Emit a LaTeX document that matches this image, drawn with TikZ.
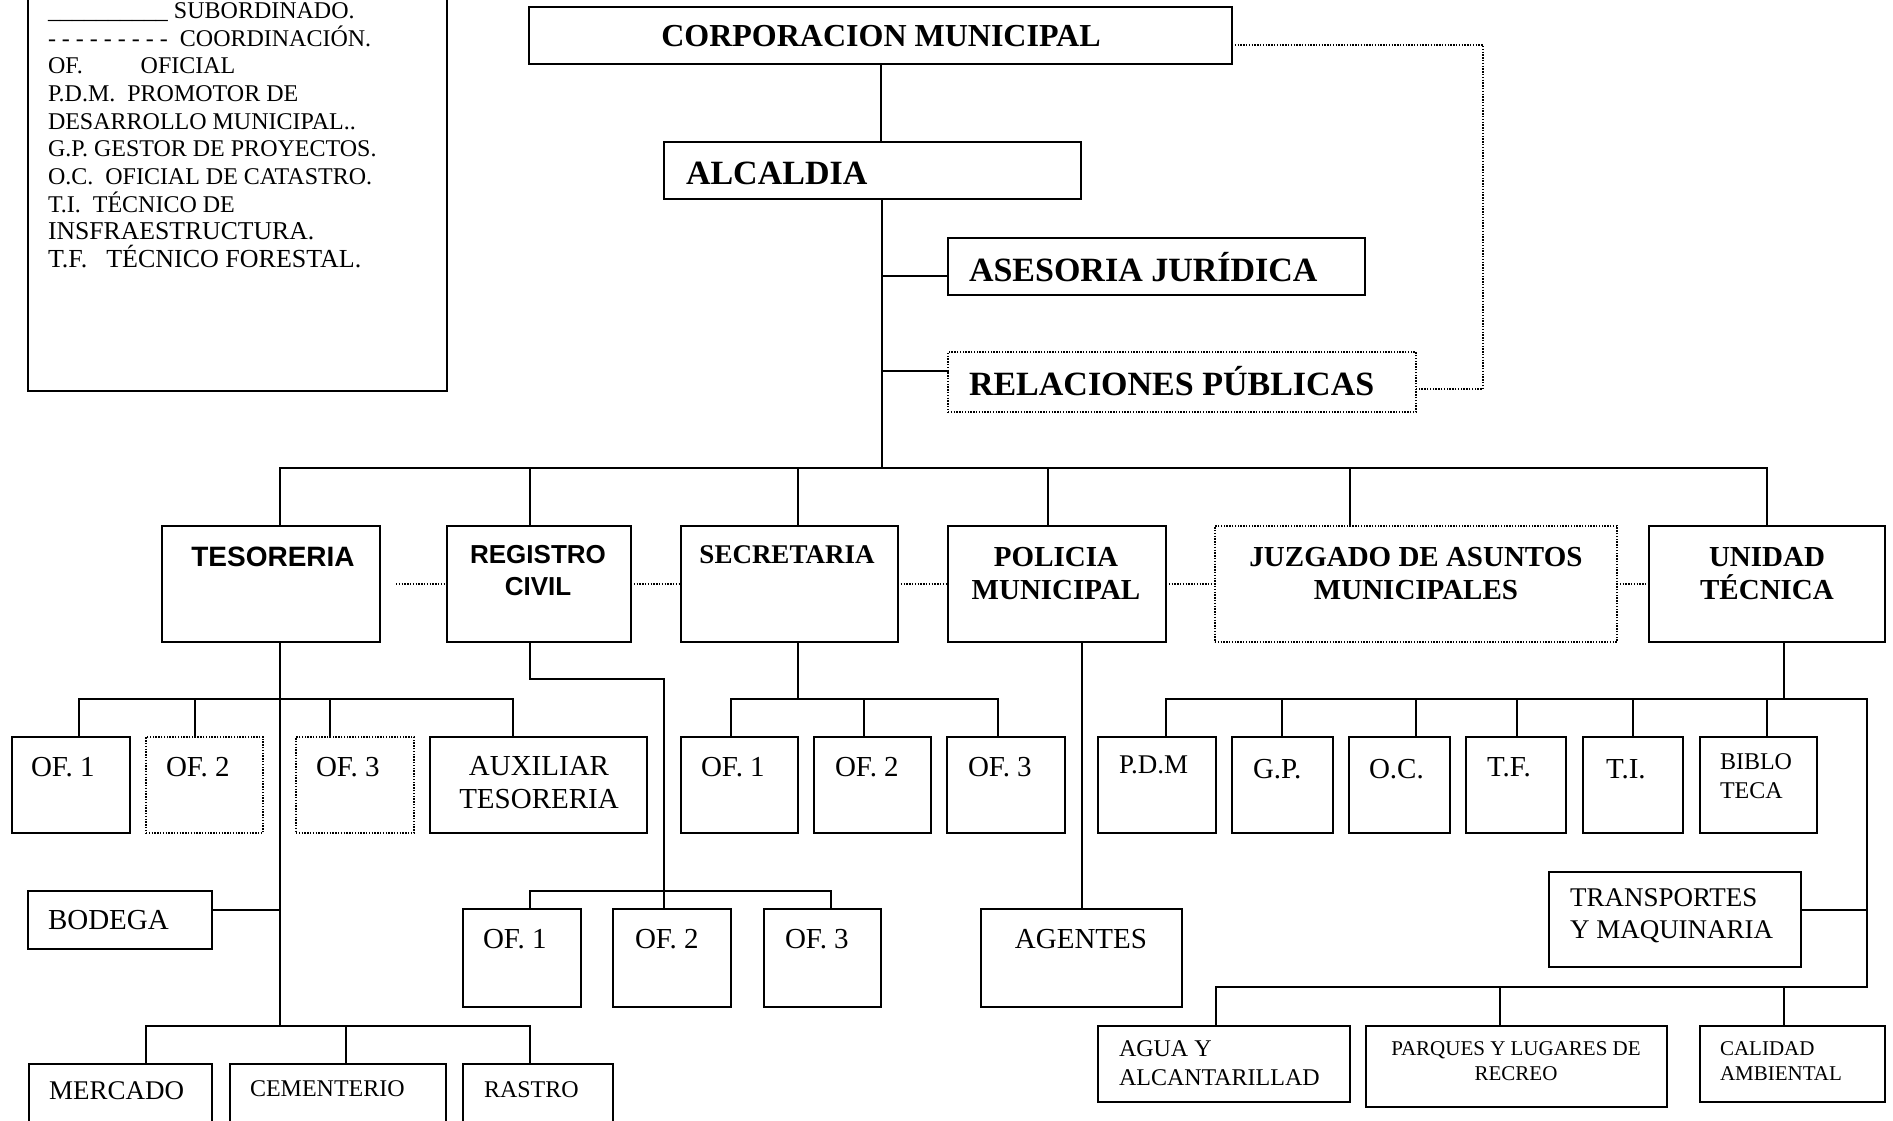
\documentclass[tikz,border=0pt]{standalone}
\usepackage{fontspec}
\setmainfont{Liberation Serif}
\newfontfamily\sansfam{Liberation Sans}
\newcommand\fsz[2]{\fontsize{#1pt}{#2pt}\selectfont}
\begin{document}
\begin{tikzpicture}[x=1pt,y=-1pt,
  box/.style={draw, line width=1.6pt, inner sep=0pt, outer sep=0pt, anchor=north west},
  dbox/.style={box, line width=1.4pt, dash pattern=on 1.4pt off 1.4pt},
  conn/.style={line width=1.5pt, line cap=rect},
  dconn/.style={line width=1.4pt, dash pattern=on 1.4pt off 1.4pt},
  txt/.style={inner sep=0pt, outer sep=0pt},
  bt/.style={txt, font=\bfseries\fsz{#1}{33}},
  rt/.style={txt, font=\fsz{#1}{32}},
]
\useasboundingbox (0,0) rectangle (1893,1121);

% ---------- boxes ----------
\node[box, minimum width=419pt, minimum height=411pt] (leg) at (28,-20) {};
\node[box, minimum width=703pt, minimum height=57pt] (corp) at (529,7) {};
\node[box, minimum width=417pt, minimum height=57pt] (alc) at (664,142) {};
\node[box, minimum width=417pt, minimum height=57pt] (ases) at (948,238) {};
\node[dbox, minimum width=468pt, minimum height=60pt] (rel) at (948,352) {};

\node[box, minimum width=218pt, minimum height=116pt] (tes) at (162,526) {};
\node[box, minimum width=184pt, minimum height=116pt] (reg) at (447,526) {};
\node[box, minimum width=217pt, minimum height=116pt] (sec) at (681,526) {};
\node[box, minimum width=218pt, minimum height=116pt] (pol) at (948,526) {};
\node[dbox, minimum width=402pt, minimum height=116pt] (juz) at (1215,526) {};
\node[box, minimum width=236pt, minimum height=116pt] (uni) at (1649,526) {};

\node[box, minimum width=118pt, minimum height=96pt] (tof1) at (12,737) {};
\node[dbox, minimum width=117pt, minimum height=96pt] (tof2) at (146,737) {};
\node[dbox, minimum width=118pt, minimum height=96pt] (tof3) at (296,737) {};
\node[box, minimum width=217pt, minimum height=96pt] (aux) at (430,737) {};
\node[box, minimum width=117pt, minimum height=96pt] (sof1) at (681,737) {};
\node[box, minimum width=117pt, minimum height=96pt] (sof2) at (814,737) {};
\node[box, minimum width=118pt, minimum height=96pt] (sof3) at (947,737) {};
\node[box, minimum width=118pt, minimum height=96pt] (pdm) at (1098,737) {};
\node[box, minimum width=101pt, minimum height=96pt] (gp) at (1232,737) {};
\node[box, minimum width=101pt, minimum height=96pt] (oc) at (1349,737) {};
\node[box, minimum width=100pt, minimum height=96pt] (tf) at (1466,737) {};
\node[box, minimum width=100pt, minimum height=96pt] (ti) at (1583,737) {};
\node[box, minimum width=117pt, minimum height=96pt] (bib) at (1700,737) {};

\node[box, minimum width=184pt, minimum height=58pt] (bod) at (28,891) {};
\node[box, minimum width=118pt, minimum height=98pt] (rof1) at (463,909) {};
\node[box, minimum width=118pt, minimum height=98pt] (rof2) at (613,909) {};
\node[box, minimum width=117pt, minimum height=98pt] (rof3) at (764,909) {};
\node[box, minimum width=201pt, minimum height=98pt] (age) at (981,909) {};
\node[box, minimum width=252pt, minimum height=95pt] (trans) at (1549,872) {};
\node[box, minimum width=252pt, minimum height=76pt] (agua) at (1098,1026) {};
\node[box, minimum width=301pt, minimum height=81pt] (parq) at (1366,1026) {};
\node[box, minimum width=185pt, minimum height=76pt] (cal) at (1700,1026) {};
\node[box, minimum width=183pt, minimum height=62pt] (merc) at (29,1064) {};
\node[box, minimum width=216pt, minimum height=62pt] (cem) at (230,1064) {};
\node[box, minimum width=150pt, minimum height=62pt] (ras) at (463,1064) {};

% ---------- legend (anchored at the baseline of its last line) ----------
\node[txt, anchor=base west, align=left, font=\fsz{24}{27.7}] (legtext) at (48,267.6)
 {\_\_\_\_\_\_\_\_\_\_ SUBORDINADO.\\
  - - - - - - - - -~~COORDINACIÓN.\\
  OF.\hspace{58pt}OFICIAL\\
  P.D.M.~~PROMOTOR DE\\
  DESARROLLO MUNICIPAL..\\
  G.P. GESTOR DE PROYECTOS.\\
  O.C.~~OFICIAL DE CATASTRO.\\
  T.I.~~TÉCNICO DE\\
  \fsz{25.7}{27.7}INSFRAESTRUCTURA.\\
  \fsz{26}{27.7}T.F.\hspace{19pt}TÉCNICO FORESTAL.};

% ---------- texts ----------
\node[bt=32, anchor=base] (tcorp) at (881,47) {CORPORACION MUNICIPAL};
\node[bt=34, anchor=base west] (talc) at (686,185) {ALCALDIA};
\node[bt=34, anchor=base west] (tases) at (969,281) {ASESORIA JURÍDICA};
\node[bt=34, anchor=base west] (trel) at (969,395) {RELACIONES PÚBLICAS};

\node[txt, anchor=base, font=\sansfam\bfseries\fsz{28}{32}] (ttes) at (273,566) {TESORERIA};
\node[txt, anchor=base, align=center, font=\sansfam\bfseries\fsz{26}{32}] (treg) at (538,595) {REGISTRO\\CIVIL};
\node[bt=27, anchor=base] (tsec) at (787,563) {SECRETARIA};
\node[bt=29, anchor=base, align=center] (tpol) at (1056,599) {POLICIA\\MUNICIPAL};
\node[bt=29, anchor=base, align=center] (tjuz) at (1416,599) {JUZGADO DE ASUNTOS\\MUNICIPALES};
\node[bt=29, anchor=base, align=center] (tuni) at (1767,599) {UNIDAD\\TÉCNICA};

\node[rt=29, anchor=base west] (ttof1) at (31,776) {OF. 1};
\node[rt=29, anchor=base west] (ttof2) at (166,776) {OF. 2};
\node[rt=29, anchor=base west] (ttof3) at (316,776) {OF. 3};
\node[txt, anchor=base, align=center, font=\fsz{29}{33}] (taux) at (539,808) {AUXILIAR\\TESORERIA};
\node[rt=29, anchor=base west] (tsof1) at (701,776) {OF. 1};
\node[rt=29, anchor=base west] (tsof2) at (835,776) {OF. 2};
\node[rt=29, anchor=base west] (tsof3) at (968,776) {OF. 3};
\node[rt=27, anchor=base west] (tpdm) at (1119,773) {P.D.M};
\node[rt=29, anchor=base west] (tgp) at (1253,778) {G.P.};
\node[rt=29, anchor=base west] (toc) at (1369,778) {O.C.};
\node[rt=29, anchor=base west] (ttf) at (1487,776) {T.F.};
\node[rt=29, anchor=base west] (tti) at (1606,778) {T.I.};
\node[txt, anchor=base west, align=left, font=\fsz{24}{28.3}] (tbib) at (1720,798) {BIBLO\\TECA};

\node[rt=29, anchor=base west] (tbod) at (48,929) {BODEGA};
\node[rt=29, anchor=base west] (trof1) at (483,948) {OF. 1};
\node[rt=29, anchor=base west] (trof2) at (635,948) {OF. 2};
\node[rt=29, anchor=base west] (trof3) at (785,948) {OF. 3};
\node[rt=29, anchor=base] (tage) at (1081,948) {AGENTES};
\node[txt, anchor=base west, align=left, font=\fsz{27}{31.5}] (ttrans) at (1570,938) {TRANSPORTES\\Y MAQUINARIA};
\node[txt, anchor=base west, align=left, font=\fsz{24}{28.3}] (tagua) at (1119,1085) {AGUA Y\\ALCANTARILLAD};
\node[txt, anchor=base, align=center, font=\fsz{21}{25}] (tparq) at (1516,1080) {PARQUES Y LUGARES DE\\RECREO};
\node[txt, anchor=base west, align=left, font=\fsz{21}{25}] (tcal) at (1720,1080) {CALIDAD\\AMBIENTAL};
\node[rt=27, anchor=base west] (tmerc) at (49,1099) {MERCADO};
\node[rt=24, anchor=base west] (tcem) at (250,1096) {CEMENTERIO};
\node[rt=24, anchor=base west] (tras) at (484,1097) {RASTRO};

% ---------- connectors: top ----------
\coordinate (spine) at (882,468);
\draw[conn] (corp.south -| 881,0) -- (alc.north -| 881,0);
\draw[conn] (alc.south -| spine) -- (spine);
\draw[conn] (spine |- 0,276) -- (ases.west |- 0,276);
\draw[conn] (spine |- 0,371) -- (rel.west |- 0,371);
\draw[dconn] (corp.east |- 0,45) -- (1483,45) -- (1483,389) -- (rel.east |- 0,389);

% main bus
\draw[conn] (280,468) -- (1767,468);
\draw[conn] (280,468) -- (tes.north -| 280,0);
\draw[conn] (530,468) -- (reg.north -| 530,0);
\draw[conn] (798,468) -- (sec.north -| 798,0);
\draw[conn] (1048,468) -- (pol.north -| 1048,0);
\draw[conn] (1350,468) -- (juz.north -| 1350,0);
\draw[conn] (1767,468) -- (uni.north -| 1767,0);

% coordination (dotted)
\coordinate (tesdot) at (396,584);
\draw[dconn] (tesdot) -- (reg.west);
\draw[dconn] (reg.east) -- (sec.west);
\draw[dconn] (sec.east) -- (pol.west);
\draw[dconn] (pol.east) -- (juz.west);
\draw[dconn] (juz.east) -- (uni.west);

% ---------- Tesoreria ----------
\draw[conn] (tes.south -| 280,0) -- (280,1026);
\draw[conn] (79,699) -- (513,699);
\draw[conn] (79,699) -- (tof1.north -| 79,0);
\draw[conn] (195,699) -- (tof2.north -| 195,0);
\draw[conn] (330,699) -- (tof3.north -| 330,0);
\draw[conn] (513,699) -- (aux.north -| 513,0);
\draw[conn] (bod.east |- 0,910) -- (280,910);
\draw[conn] (146,1026) -- (530,1026);
\draw[conn] (146,1026) -- (merc.north -| 146,0);
\draw[conn] (346,1026) -- (cem.north -| 346,0);
\draw[conn] (530,1026) -- (ras.north -| 530,0);

% ---------- Registro civil ----------
\draw[conn] (reg.south -| 530,0) -- (530,679) -- (664,679) -- (rof2.north -| 664,0);
\draw[conn] (530,891) -- (831,891);
\draw[conn] (530,891) -- (rof1.north -| 530,0);
\draw[conn] (831,891) -- (rof3.north -| 831,0);

% ---------- Secretaria ----------
\draw[conn] (sec.south -| 798,0) -- (798,699);
\draw[conn] (731,699) -- (998,699);
\draw[conn] (731,699) -- (sof1.north -| 731,0);
\draw[conn] (864,699) -- (sof2.north -| 864,0);
\draw[conn] (998,699) -- (sof3.north -| 998,0);

% ---------- Policia ----------
\draw[conn] (pol.south -| 1082,0) -- (age.north -| 1082,0);

% ---------- Unidad tecnica ----------
\draw[conn] (uni.south -| 1784,0) -- (1784,699);
\draw[conn] (1166,699) -- (1867,699) -- (1867,987) -- (1216,987);
\draw[conn] (1166,699) -- (pdm.north -| 1166,0);
\draw[conn] (1282,699) -- (gp.north -| 1282,0);
\draw[conn] (1416,699) -- (oc.north -| 1416,0);
\draw[conn] (1517,699) -- (tf.north -| 1517,0);
\draw[conn] (1633,699) -- (ti.north -| 1633,0);
\draw[conn] (1767,699) -- (bib.north -| 1767,0);
\draw[conn] (trans.east |- 0,910) -- (1867,910);
\draw[conn] (1216,987) -- (agua.north -| 1216,0);
\draw[conn] (1500,987) -- (parq.north -| 1500,0);
\draw[conn] (1784,987) -- (cal.north -| 1784,0);
\end{tikzpicture}
\end{document}
